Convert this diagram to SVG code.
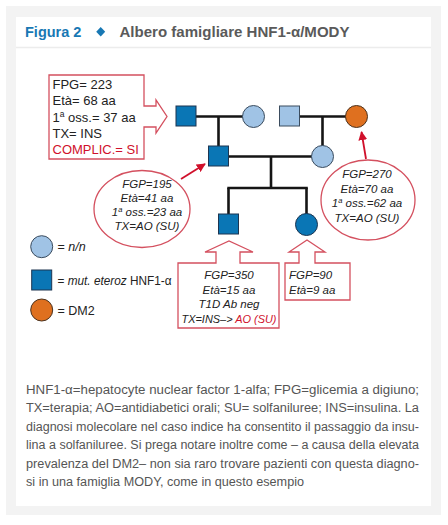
<svg xmlns="http://www.w3.org/2000/svg" width="448" height="525" viewBox="0 0 448 525">
<defs>
<style>
.t{font-family:"Liberation Sans",Arial,sans-serif;fill:#222}
.it{font-style:italic;font-size:11.5px}
.cap{font-family:"Liberation Sans",Arial,sans-serif;font-size:12.5px;fill:#555}
.ln{stroke:#151515;stroke-width:2.6;fill:none}
.dk{fill:#0a76b5;stroke:#1d3550;stroke-width:1}
.lt{fill:#a0c3e5;stroke:#3b4c5e;stroke-width:1}
.or{fill:#df701f;stroke:#4a3320;stroke-width:1}
.co{fill:#fff;stroke:#d4505f;stroke-width:1.3}
.ar{stroke:#d0102b;stroke-width:1.8;fill:none}
.red{fill:#d0102b}
</style>
<marker id="ah" viewBox="0 0 10 10" refX="9" refY="5" markerWidth="5" markerHeight="5" orient="auto">
<path d="M0,0 L10,5 L0,10 Z" fill="#d0102b"/>
</marker>
</defs>
<rect x="0" y="0" width="448" height="525" fill="#ffffff"/>
<rect x="6" y="6" width="435" height="509" fill="#f3f3f3"/>
<rect x="16" y="17" width="415" height="489" fill="#ffffff"/>
<line x1="16" y1="47.5" x2="431" y2="47.5" stroke="#ececec" stroke-width="1.5"/>

<g id="title">
<text x="25" y="36.5" font-family="Liberation Sans,Arial,sans-serif" font-weight="bold" font-size="14.5" fill="#1878b4">Figura 2</text>
<path d="M100.7,27 L105.2,31.7 L100.7,36.4 L96.2,31.7 Z" fill="#1878b4"/>
<text x="119.5" y="36.5" font-family="Liberation Sans,Arial,sans-serif" font-weight="bold" font-size="15" fill="#5a5a5a" textLength="230" lengthAdjust="spacingAndGlyphs">Albero famigliare HNF1-α/MODY</text>
</g>

<g id="connectors">
<line class="ln" x1="196" y1="116.5" x2="243" y2="116.5"/>
<line class="ln" x1="218.5" y1="116.5" x2="218.5" y2="146"/>
<line class="ln" x1="299.5" y1="116.5" x2="346" y2="116.5"/>
<line class="ln" x1="322.5" y1="116.5" x2="322.5" y2="146"/>
<line class="ln" x1="228.5" y1="156.5" x2="312" y2="156.5"/>
<line class="ln" x1="271" y1="156.5" x2="271" y2="188"/>
<line class="ln" x1="227.3" y1="188" x2="307.8" y2="188"/>
<line class="ln" x1="228.5" y1="188" x2="228.5" y2="214"/>
<line class="ln" x1="306.5" y1="188" x2="306.5" y2="214"/>
<line class="ar" x1="181" y1="179" x2="205" y2="164" marker-end="url(#ah)"/>
<line class="ar" x1="366" y1="159" x2="361.5" y2="132" marker-end="url(#ah)"/>
</g>

<g id="grandfather"><rect class="dk" x="176" y="106" width="20" height="20"/></g>
<g id="grandmother1"><circle class="lt" cx="253.5" cy="116.5" r="11"/></g>
<g id="grandfather2"><rect class="lt" x="279.5" y="106" width="20" height="20"/></g>
<g id="grandmother2"><circle class="or" cx="356.5" cy="116.5" r="11"/></g>
<g id="father"><rect class="dk" x="208.5" y="146" width="20" height="20"/></g>
<g id="mother"><circle class="lt" cx="322.5" cy="156.5" r="11"/></g>
<g id="son"><rect class="dk" x="218.5" y="214" width="20" height="20"/></g>
<g id="daughter"><circle class="dk" cx="306.5" cy="224.5" r="11"/></g>

<g id="callout-grandfather">
<path class="co" d="M49,75 H144 V106 H156 V100 L167,116.5 L156,133 V127 H144 V159 H49 Z"/>
<text class="t" font-size="13" x="52.5" y="89">FPG= 223</text>
<text class="t" font-size="13" x="52.5" y="105">Età= 68 aa</text>
<text class="t" font-size="13" x="52.5" y="121.5">1<tspan font-size="8.5" dy="-5">a</tspan><tspan dy="5"> oss.= 37 aa</tspan></text>
<text class="t" font-size="13" x="52.5" y="137.5">TX= INS</text>
<text class="t red" font-size="13" x="52.5" y="153.5">COMPLIC.= SI</text>
</g>

<g id="callout-father">
<ellipse class="co" cx="142" cy="209" rx="48" ry="38.5"/>
<g class="t it" text-anchor="middle">
<text x="147" y="187.5">FGP=195</text>
<text x="147" y="201.5">Età=41 aa</text>
<text x="147" y="215.5">1<tspan font-size="7.5" dy="-4">a</tspan><tspan dy="4"> oss.=23 aa</tspan></text>
<text x="147" y="229.5">TX=AO (SU)</text>
</g>
</g>

<g id="callout-grandmother2">
<ellipse class="co" cx="368" cy="200" rx="47" ry="40"/>
<g class="t it" text-anchor="middle">
<text x="367" y="178">FGP=270</text>
<text x="367" y="192.5">Età=70 aa</text>
<text x="367" y="207">1<tspan font-size="7.5" dy="-4">a</tspan><tspan dy="4"> oss.=62 aa</tspan></text>
<text x="367" y="221.5">TX=AO (SU)</text>
</g>
</g>

<g id="callout-son">
<path class="co" d="M178,263 H216 V252 H205 L229,241 L253,252 H240 V263 H279 V328 H178 Z"/>
<g class="t it" text-anchor="middle">
<text x="229" y="279">FGP=350</text>
<text x="229" y="294">Età=15 aa</text>
<text x="229" y="308">T1D Ab neg</text>
<text x="229" y="322.5" textLength="95" lengthAdjust="spacingAndGlyphs">TX=INS–&gt; <tspan class="red">AO (SU)</tspan></text>
</g>
</g>

<g id="callout-daughter">
<path class="co" d="M285,263 H299 V252 H289 L307,240 L325,252 H315 V263 H350 V300 H285 Z"/>
<text class="t it" x="289" y="279">FGP=90</text>
<text class="t it" x="289" y="294">Età=9 aa</text>
</g>

<g id="legend">
<circle class="lt" cx="41.7" cy="246.7" r="11"/>
<text class="t" font-size="12.5" x="57.5" y="251">= <tspan font-style="italic">n/n</tspan></text>
<rect class="dk" x="31.7" y="270" width="20" height="20"/>
<text class="t" font-size="12.5" x="57.5" y="284.5" textLength="114" lengthAdjust="spacingAndGlyphs">= <tspan font-style="italic">mut. eteroz</tspan> HNF1-α</text>
<circle class="or" cx="41.7" cy="310" r="11"/>
<text class="t" font-size="12.5" x="57.5" y="314.5">= DM2</text>
</g>

<g id="caption">
<text class="cap" x="26" y="393.5" textLength="393" lengthAdjust="spacingAndGlyphs">HNF1-α=hepatocyte nuclear factor 1-alfa; FPG=glicemia a digiuno;</text>
<text class="cap" x="26" y="412" textLength="393" lengthAdjust="spacingAndGlyphs">TX=terapia; AO=antidiabetici orali; SU= solfaniluree; INS=insulina. La</text>
<text class="cap" x="26" y="430.5" textLength="393" lengthAdjust="spacingAndGlyphs">diagnosi molecolare nel caso indice ha consentito il passaggio da insu-</text>
<text class="cap" x="26" y="449" textLength="393" lengthAdjust="spacingAndGlyphs">lina a solfaniluree. Si prega notare inoltre come – a causa della elevata</text>
<text class="cap" x="26" y="467.5" textLength="393" lengthAdjust="spacingAndGlyphs">prevalenza del DM2– non sia raro trovare pazienti con questa diagno-</text>
<text class="cap" x="26" y="486" textLength="278" lengthAdjust="spacingAndGlyphs">si in una famiglia MODY, come in questo esempio</text>
</g>
</svg>
